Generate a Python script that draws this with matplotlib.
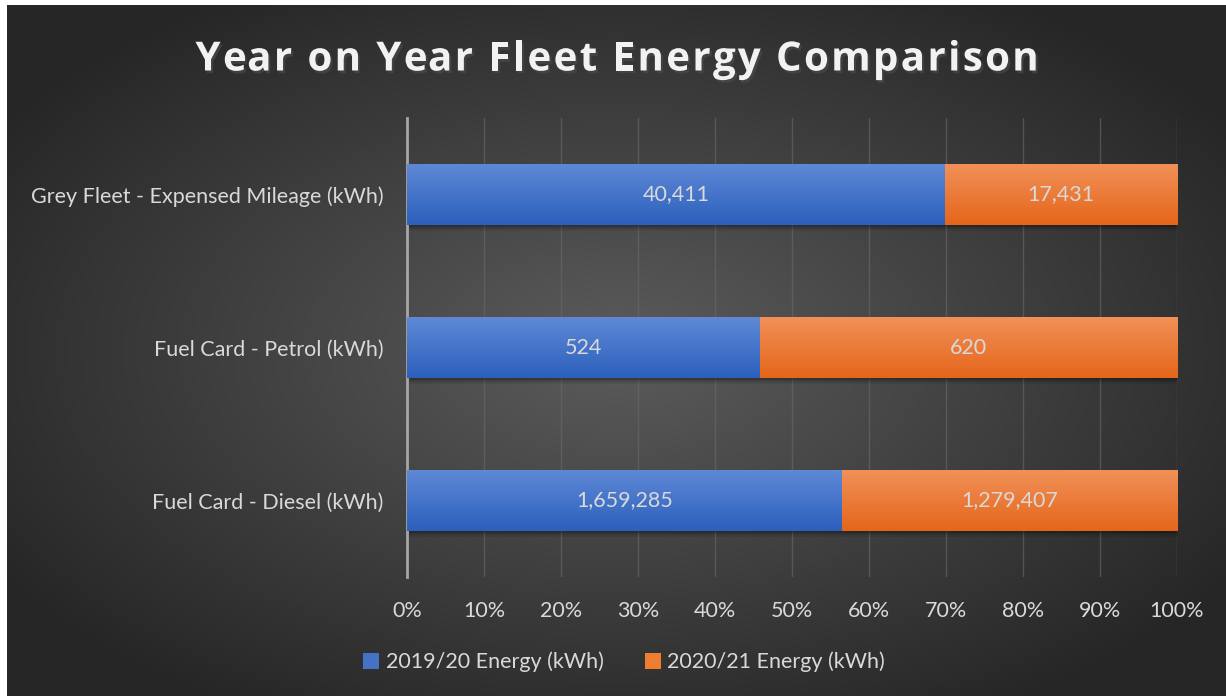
import numpy as np
import matplotlib.pyplot as plt
import matplotlib.patheffects as pe
from matplotlib.patches import Patch, Rectangle

# data
categories = ["Fuel Card - Diesel (kWh)", "Fuel Card - Petrol (kWh)",
              "Grey Fleet - Expensed Mileage (kWh)"]
energy_1920 = [1659285, 524, 40411]
energy_2021 = [1279407, 620, 17431]
series_names = ["2019/20 Energy (kWh)", "2020/21 Energy (kWh)"]
title = "Year on Year Fleet Energy Comparison"

plt.rcParams['font.family'] = ['Lato', 'DejaVu Sans']
txt_col = '#d9d9d9'
fs = 15.5

W, H = 1226, 696
fig = plt.figure(figsize=(W / 100, H / 100), dpi=100, facecolor='white')

# radial grey background (chart area starts a few px in from top/left)
bg = fig.add_axes([7 / W, 0, 1 - 7 / W, 1 - 5 / H], zorder=-5)
yy, xx = np.mgrid[0:1:400j, 0:1:700j]
r = np.sqrt(((xx - 0.5) / 0.75) ** 2 + ((yy - 0.5) / 0.75) ** 2)
shade = np.clip(0.36 - 0.26 * r, 0.15, 0.36)
bg.imshow(np.dstack([shade] * 3), extent=[0, 1, 0, 1], aspect='auto')
bg.set_axis_off()

ax = fig.add_axes([407 / W, 1 - 577 / H, 770 / W, 459 / H])
ax.patch.set_alpha(0)

tot = np.array(energy_1920) + np.array(energy_2021)
p1 = np.array(energy_1920) / tot
p2 = np.array(energy_2021) / tot
y = np.arange(len(categories))
bh = 0.405

grad_cols = [('#5f89d6', '#2c60bd'), ('#f19159', '#e5661a')]

def gradient_bars(bars, cols):
    c_top = np.array(plt.matplotlib.colors.to_rgb(cols[0]))
    c_bot = np.array(plt.matplotlib.colors.to_rgb(cols[1]))
    t = np.linspace(0, 1, 64)[:, None]
    img = (c_top * (1 - t) + c_bot * t)[:, None, :]
    for b in bars:
        x0, y0 = b.get_x(), b.get_y()
        w, h = b.get_width(), b.get_height()
        im = ax.imshow(img, extent=[x0, x0 + w, y0, y0 + h], aspect='auto',
                       origin='upper', zorder=3)
        im.set_clip_path(b)
        # soft shadow under the bar
        for k, a in enumerate([0.18, 0.12, 0.07]):
            ax.add_patch(Rectangle((x0 + 0.002, y0 - 0.012 * (k + 1)), w, h,
                                   color='black', alpha=a, lw=0, zorder=2))

b1 = ax.barh(y, p1, height=bh, color='none', zorder=3)
b2 = ax.barh(y, p2, left=p1, height=bh, color='none', zorder=3)
gradient_bars(b1, grad_cols[0])
gradient_bars(b2, grad_cols[1])

for i in range(len(categories)):
    ax.text(p1[i] / 2, y[i], f"{energy_1920[i]:,}", ha='center', va='center',
            color=txt_col, fontsize=fs, zorder=5)
    ax.text(p1[i] + p2[i] / 2, y[i], f"{energy_2021[i]:,}", ha='center',
            va='center', color=txt_col, fontsize=fs, zorder=5)

ax.set_xlim(0, 1)
ax.set_ylim(-0.5, len(categories) - 0.5)
ax.set_xticks(np.arange(0, 1.01, 0.1))
ax.set_xticklabels([f"{int(round(v * 100))}%" for v in np.arange(0, 1.01, 0.1)])
ax.set_yticks(y)
ax.set_yticklabels(categories)
ax.tick_params(colors=txt_col, labelsize=fs, length=0)
ax.tick_params(axis='x', pad=17)
ax.tick_params(axis='y', pad=17)
ax.grid(axis='x', color='#6a6a6a', lw=1.0, alpha=0.6, zorder=0)
ax.set_axisbelow(True)
for s in ['top', 'right', 'bottom']:
    ax.spines[s].set_visible(False)
ax.spines['left'].set_color('#a6a6a6')
ax.spines['left'].set_linewidth(2)

# title with extra letter spacing, placed char by char
tkw = dict(color='#f2f2f2', fontsize=29, fontweight='bold',
           family=['Open Sans', 'DejaVu Sans'], va='center', ha='left')
renderer = fig.canvas.get_renderer()
def text_w(s):
    if not s:
        return 0.0
    t = fig.text(0, 0, s, **tkw)
    w = t.get_window_extent(renderer).width
    t.remove()
    return w
track = 2.4
total = text_w(title) + track * (len(title) - 1)
x_start = 617 - total / 2
for i, ch in enumerate(title):
    if ch == ' ':
        continue
    xp = x_start + text_w(title[:i]) + track * i
    fig.text(xp / W, 1 - 60 / H, ch, **tkw,
             path_effects=[pe.SimplePatchShadow(offset=(1.5, -2), alpha=0.7),
                           pe.Normal()])

handles = [Patch(facecolor='#4472c4'), Patch(facecolor='#ed7d31')]
fig.legend(handles, series_names, loc='center', bbox_to_anchor=(624 / W, 1 - 662 / H),
           ncol=2, frameon=False, fontsize=fs, labelcolor=txt_col,
           handlelength=0.75, handleheight=0.75, handletextpad=0.3,
           columnspacing=1.9)

fig.savefig('out.png', dpi=100, facecolor='white')
